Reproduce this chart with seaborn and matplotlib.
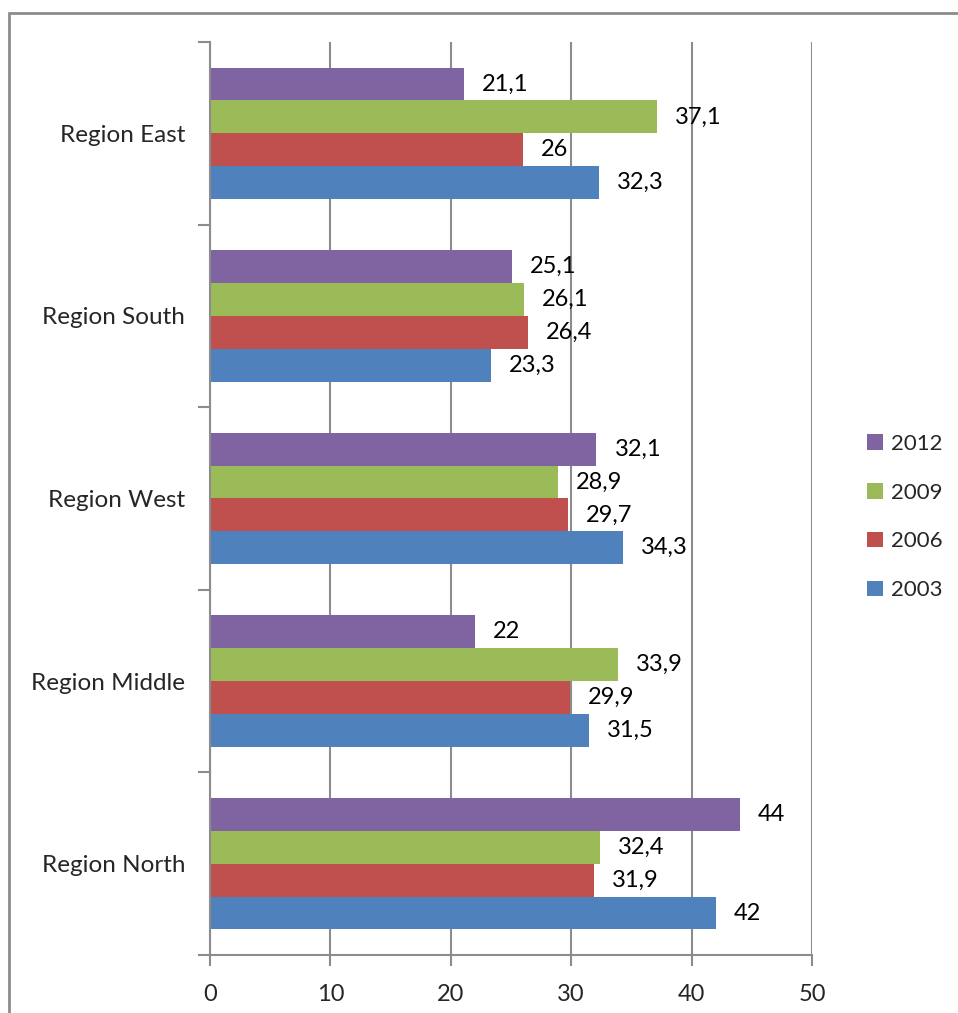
import matplotlib
matplotlib.use("Agg")
import matplotlib.pyplot as plt
import matplotlib.patches as mpatches
import seaborn as sns
import pandas as pd
import numpy as np

# ---- data ----
regions = ["Region East", "Region South", "Region West", "Region Middle", "Region North"]
years = ["2012", "2009", "2006", "2003"]
v2012 = [21.1, 25.1, 32.1, 22.0, 44.0]
v2009 = [37.1, 26.1, 28.9, 33.9, 32.4]
v2006 = [26.0, 26.4, 29.7, 29.9, 31.9]
v2003 = [32.3, 23.3, 34.3, 31.5, 42.0]
colors = ["#8064A2", "#9BBB59", "#C0504D", "#4F81BD"]

rows = []
for yr, vals in zip(years, [v2012, v2009, v2006, v2003]):
    for reg, v in zip(regions, vals):
        rows.append({"region": reg, "year": yr, "value": v})
df = pd.DataFrame(rows)

sns.set_theme(style="white")
plt.rcParams["font.family"] = ["Lato", "DejaVu Sans"]

fig = plt.figure(figsize=(9.58, 10.13), dpi=100)
ax = fig.add_axes([210 / 958, 1 - 955 / 1013, 602 / 958, 913 / 1013])

sns.barplot(data=df, x="value", y="region", hue="year", order=regions,
            hue_order=years, palette=colors, orient="h", width=0.72, gap=0,
            ax=ax, saturation=1, edgecolor="none", linewidth=0, legend=True)

# data labels with comma decimal separator
for cont in ax.containers:
    labels = [f"{bar.get_width():g}".replace(".", ",") for bar in cont]
    ax.bar_label(cont, labels=labels, padding=13, fontsize=17, color="black")

ax.set_xlim(0, 50)
ax.set_ylim(4.5, -0.5)
ax.set_xticks([0, 10, 20, 30, 40, 50])
ax.xaxis.grid(True, color="#8c8c8c", linewidth=1.5)
ax.set_axisbelow(True)
ax.set_xlabel("")
ax.set_ylabel("")

for side in ["top", "right"]:
    ax.spines[side].set_visible(False)
for side in ["left", "bottom"]:
    ax.spines[side].set_color("#8c8c8c")
    ax.spines[side].set_linewidth(1.5)

ax.set_yticks(np.arange(-0.5, 5, 1), minor=True)
ax.tick_params(axis="y", which="major", length=0, pad=18, labelsize=17.5)
ax.tick_params(axis="y", which="minor", length=9, width=1.5, color="#8c8c8c", direction="out", left=True)
ax.tick_params(axis="x", which="major", length=8, width=1.5, color="#8c8c8c", direction="out",
               bottom=True, pad=13, labelsize=17)

leg = ax.legend(loc="center left", bbox_to_anchor=(867 / 958, 1 - 517 / 1013),
                bbox_transform=fig.transFigure, frameon=False, fontsize=16,
                handlelength=0.7, handleheight=0.7, handletextpad=0.4,
                labelspacing=1.3, borderpad=0, borderaxespad=0)

# outer chart border (Excel chart area)
border = mpatches.Rectangle((9 / 958, -0.2), 2, 1.2 - 13 / 1013, transform=fig.transFigure,
                            fill=False, edgecolor="#8c8c8c", linewidth=2, clip_on=False)
fig.patches.append(border)

fig.savefig("out.png", dpi=100)
